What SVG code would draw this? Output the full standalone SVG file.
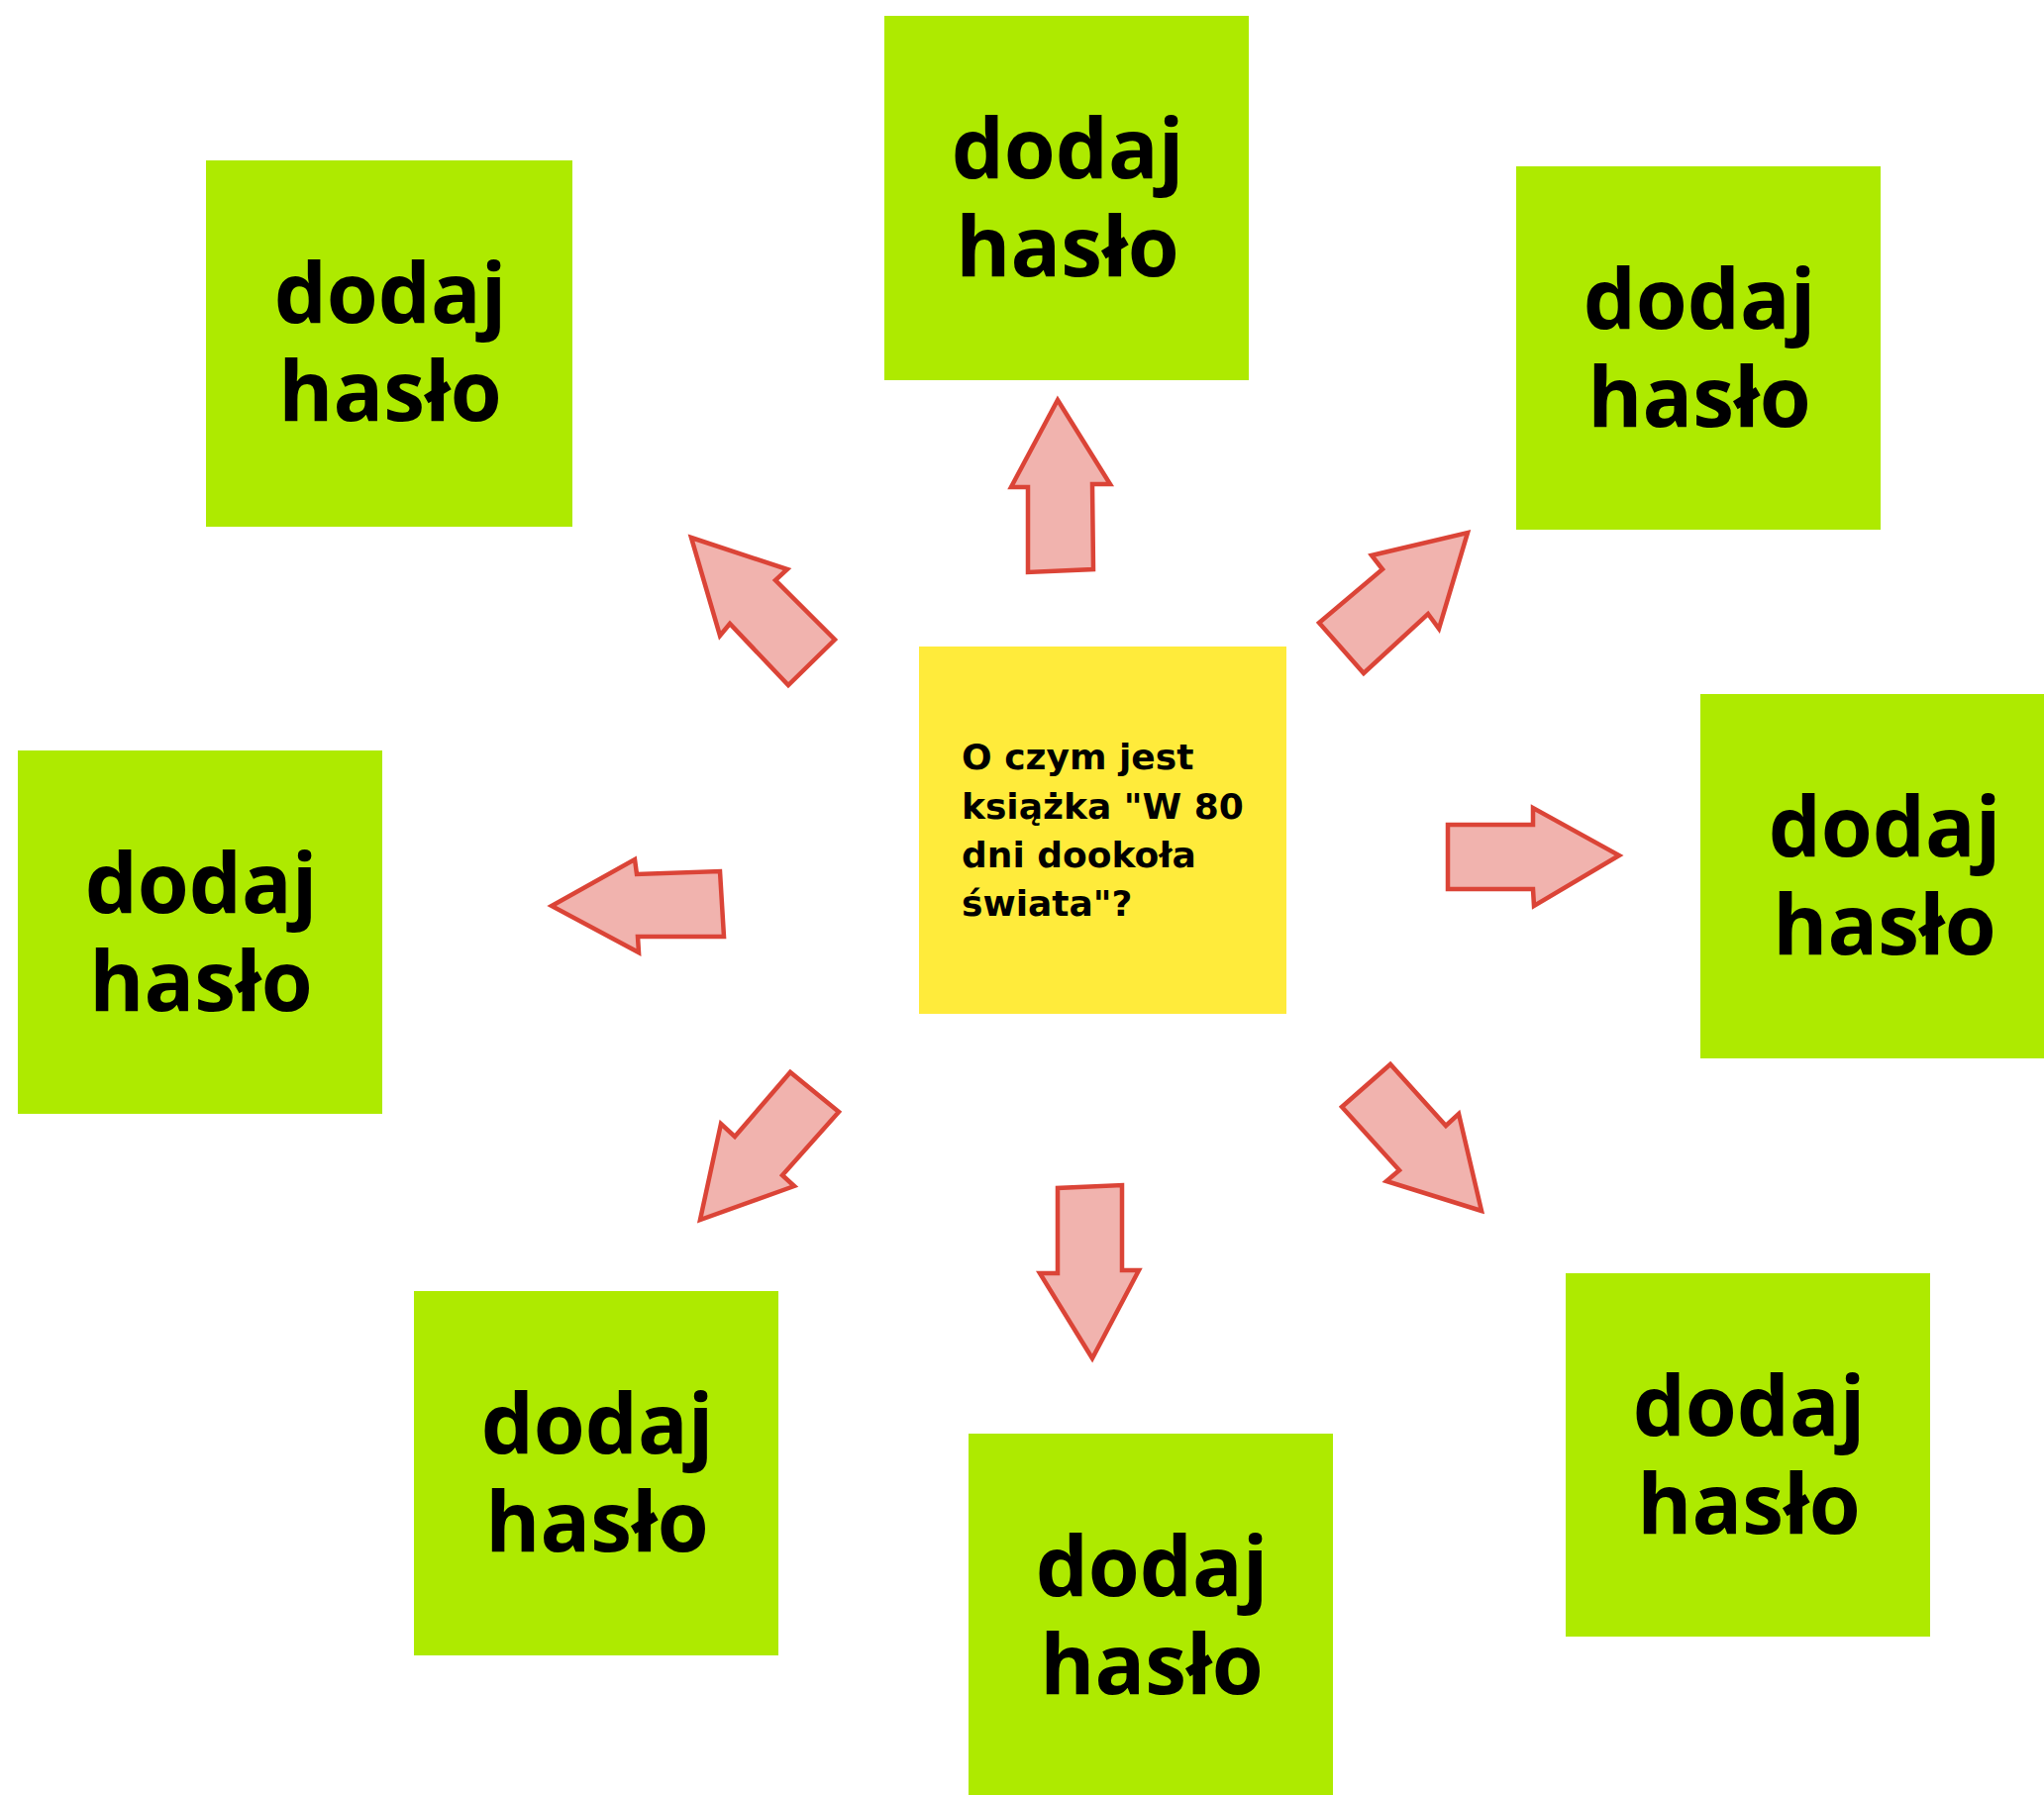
<svg xmlns="http://www.w3.org/2000/svg" width="2064" height="1813" viewBox="0 0 2064 1813">
<style>
  .note { fill: #aeea00; }
  .center { fill: #ffeb3b; }
  .lbl { font-family: "Open Sans", "Liberation Sans", sans-serif; font-weight: 700; font-size: 84px; fill: #000; text-anchor: middle; }
  .q { font-family: "DejaVu Sans", "Liberation Sans", sans-serif; font-weight: 700; font-size: 36px; fill: #000; }
  .arrow { fill: #f1b3ae; stroke: #db4437; stroke-width: 4.5; stroke-linejoin: miter; }
</style>
<rect x="0" y="0" width="2064" height="1813" fill="#ffffff"/>

<g id="connectors">
  <polygon class="arrow" points="1068,404 1121,489 1103,489 1104,575 1038,578 1038,492 1021,492"/>
  <polygon class="arrow" points="698,543 795,575 783,586 843,646 796,692 737,630 727,642"/>
  <polygon class="arrow" points="1482,538 1453,635 1442,620 1377,680 1332,629 1396,575 1385,561"/>
  <polygon class="arrow" points="1635,864 1549,915 1548,898 1462,898 1462,833 1548,833 1548,816"/>
  <polygon class="arrow" points="557,915 641,868 643,883 727,880 731,946 644,946 645,962"/>
  <polygon class="arrow" points="707,1232 728,1135 742,1148 798,1083 847,1123 790,1187 802,1198"/>
  <polygon class="arrow" points="1103,1372 1050,1286 1068,1286 1068,1200 1133,1197 1133,1283 1150,1283"/>
  <polygon class="arrow" points="1496,1223 1400,1193 1413,1182 1355,1118 1404,1075 1460,1137 1473,1125"/>
</g>

<g id="center">
  <rect class="center" x="928" y="653" width="371" height="371"/>
  <text class="q"><tspan x="971" y="777">O czym jest</tspan><tspan x="971" y="827">książka "W 80</tspan><tspan x="971" y="876">dni dookoła</tspan><tspan x="971" y="925">świata"?</tspan></text>
</g>

<g id="node-top-left">
  <rect class="note" x="208" y="162" width="370" height="370"/>
  <text class="lbl"><tspan x="394" y="326">dodaj</tspan><tspan x="394" y="425">hasło</tspan></text>
</g>
<g id="node-top">
  <rect class="note" x="893" y="16" width="368" height="368"/>
  <text class="lbl"><tspan x="1078" y="180">dodaj</tspan><tspan x="1078" y="279">hasło</tspan></text>
</g>
<g id="node-top-right">
  <rect class="note" x="1531" y="168" width="368" height="367"/>
  <text class="lbl"><tspan x="1716" y="332">dodaj</tspan><tspan x="1716" y="431">hasło</tspan></text>
</g>
<g id="node-right">
  <rect class="note" x="1717" y="701" width="369" height="368"/>
  <text class="lbl"><tspan x="1903" y="865">dodaj</tspan><tspan x="1903" y="964">hasło</tspan></text>
</g>
<g id="node-left">
  <rect class="note" x="18" y="758" width="368" height="367"/>
  <text class="lbl"><tspan x="203" y="922">dodaj</tspan><tspan x="203" y="1021">hasło</tspan></text>
</g>
<g id="node-bottom-left">
  <rect class="note" x="418" y="1304" width="368" height="368"/>
  <text class="lbl"><tspan x="603" y="1468">dodaj</tspan><tspan x="603" y="1567">hasło</tspan></text>
</g>
<g id="node-bottom">
  <rect class="note" x="978" y="1448" width="368" height="368"/>
  <text class="lbl"><tspan x="1163" y="1612">dodaj</tspan><tspan x="1163" y="1711">hasło</tspan></text>
</g>
<g id="node-bottom-right">
  <rect class="note" x="1581" y="1286" width="368" height="367"/>
  <text class="lbl"><tspan x="1766" y="1450">dodaj</tspan><tspan x="1766" y="1549">hasło</tspan></text>
</g>
</svg>
